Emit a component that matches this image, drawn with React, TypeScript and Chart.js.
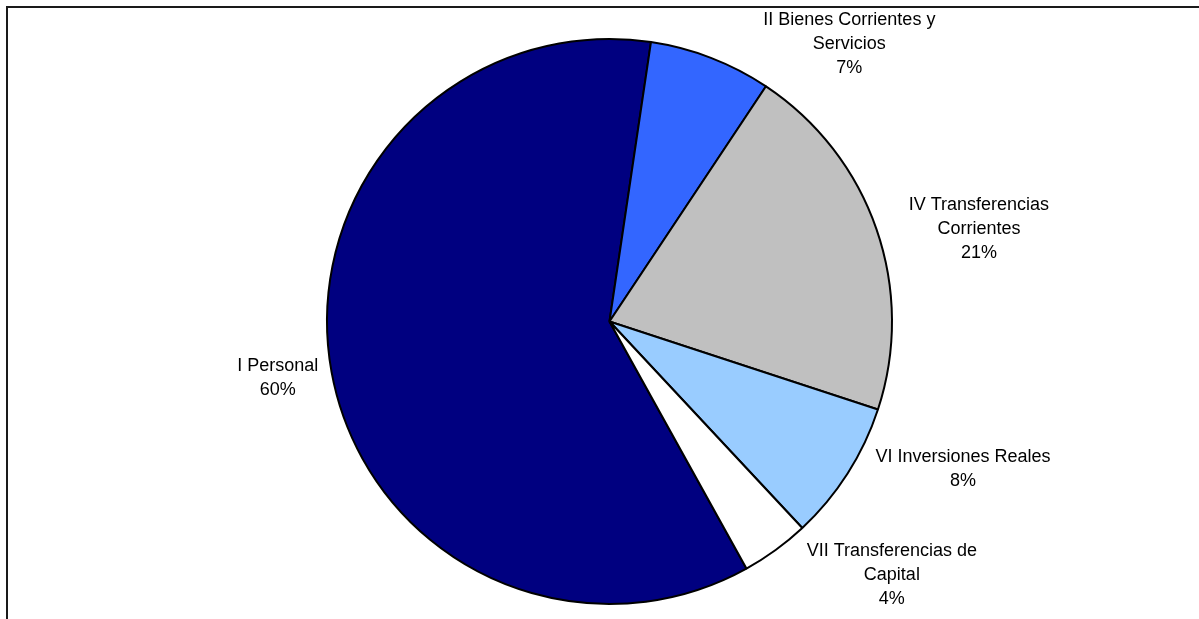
import React, { useEffect, useRef } from "react";
import { Chart, registerables } from "chart.js";

Chart.register(...registerables);

const categories = [
  ["I Personal"],
  ["II Bienes Corrientes y", "Servicios"],
  ["IV Transferencias", "Corrientes"],
  ["VI Inversiones Reales"],
  ["VII Transferencias de", "Capital"],
];
const values = [60.4, 7.0, 20.7, 8.0, 3.9];
const colors = ["#000080", "#3366FF", "#C0C0C0", "#99CCFF", "#FFFFFF"];
// label anchor (first baseline, text centre) as multiples of the pie radius from its centre
const labelOffsets = [
  [-1.17, 0.173],
  [0.846, -1.047],
  [1.303, -0.392],
  [1.247, 0.496],
  [0.996, 0.827],
];

const framePlugin = {
  id: "frame",
  beforeDraw(chart: any) {
    const ctx = chart.ctx;
    ctx.save();
    ctx.fillStyle = "#ffffff";
    ctx.fillRect(0, 0, chart.width, chart.height);
    ctx.strokeStyle = "#1a1a1a";
    ctx.lineWidth = 2;
    ctx.beginPath();
    ctx.moveTo(7, chart.height);
    ctx.lineTo(7, 7);
    ctx.lineTo(chart.width, 7);
    ctx.stroke();
    ctx.restore();
  },
};

const labelPlugin = {
  id: "pieLabels",
  afterDraw(chart: any) {
    const ctx = chart.ctx;
    const meta = chart.getDatasetMeta(0);
    const data = chart.data.datasets[0].data as number[];
    const total = data.reduce((a, b) => a + b, 0);
    ctx.save();
    ctx.font = '18px "Liberation Sans", Arial, sans-serif';
    ctx.fillStyle = "#000000";
    ctx.textAlign = "center";
    ctx.textBaseline = "alphabetic";
    meta.data.forEach((arc: any, i: number) => {
      const { x, y, outerRadius } = arc.getProps(["x", "y", "outerRadius"], true);
      const r = outerRadius + 1;
      const lx = x + labelOffsets[i][0] * r;
      const ly = y + labelOffsets[i][1] * r;
      const lines = [...categories[i], Math.round((data[i] / total) * 100) + "%"];
      lines.forEach((t, k) => ctx.fillText(t, lx, ly + k * 24));
    });
    ctx.restore();
  },
};

export default function App() {
  const ref = useRef<HTMLCanvasElement>(null);
  useEffect(() => {
    if (!ref.current) return;
    const chart = new Chart(ref.current, {
      type: "pie",
      data: {
        labels: categories.map((c) => c.join(" ")),
        datasets: [
          {
            data: values,
            backgroundColor: colors,
            borderColor: "#000000",
            borderWidth: 2,
          },
        ],
      },
      options: {
        responsive: false,
        animation: false,
        rotation: 151,
        layout: { padding: { top: 38, bottom: 14, left: 20, right: 0 } },
        plugins: {
          legend: { display: false },
          tooltip: { enabled: false },
        },
      },
      plugins: [framePlugin, labelPlugin],
    });
    return () => chart.destroy();
  }, []);
  return (
    <div style={{ position: "fixed", left: 0, top: 0, width: 1199, height: 619, background: "#fff" }}>
      <canvas ref={ref} width={1199} height={619} style={{ display: "block" }} />
    </div>
  );
}
